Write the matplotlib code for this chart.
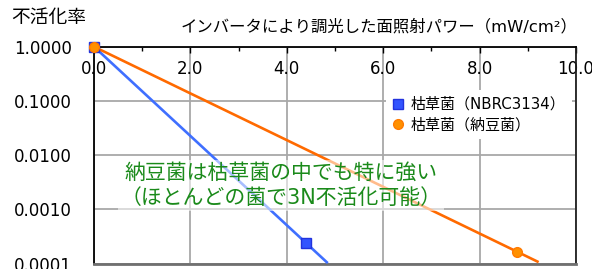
import numpy as np
import matplotlib
matplotlib.use("Agg")
import matplotlib.pyplot as plt

plt.rcParams['font.family'] = ['DejaVu Sans', 'Noto Sans CJK JP']

# データ（読み取り値）
x_nbrc = [0.0, 4.39]
y_nbrc = [1.0, 2.45e-4]
x_natto = [0.0, 8.78]
y_natto = [1.0, 1.66e-4]

# 近似線の描画範囲
rng_nbrc = [0.05, 4.83]
rng_natto = [0.14, 9.2]

xticks = [0, 2, 4, 6, 8, 10]
xminor = [1, 3, 5, 7, 9]
yticks = [1e-4, 1e-3, 1e-2, 1e-1, 1]

lab_nbrc = "枯草菌（NBRC3134）"
lab_natto = "枯草菌（納豆菌）"
titulo = "不活化率"
xlab = "インバータにより調光した面照射パワー（mW/cm²）"
nota = "納豆菌は枯草菌の中でも特に強い\n（ほとんどの菌で3N不活化可能）"

azul = "#3f6fff"
naranja = "#ff6a00"


def trend(xs, ys, rng):
    # 指数近似 (log10 で直線)
    p = np.polyfit(xs, np.log10(ys), 1)
    xx = np.array(rng)
    return xx, 10 ** np.polyval(p, xx)


fig = plt.figure(figsize=(5.92, 2.69), dpi=100)
ax = fig.add_axes([94 / 592, 5.3 / 269, 482 / 592, 217 / 269])

tx, ty = trend(x_nbrc, y_nbrc, rng_nbrc)
ax.plot(tx, ty, color=azul, lw=1.9, zorder=3)
tx, ty = trend(x_natto, y_natto, rng_natto)
ax.plot(tx, ty, color=naranja, lw=1.9, zorder=3)

ax.plot(x_nbrc, y_nbrc, 's', color="#3355ff", mec="#2233dd", ms=6.5, lw=0, zorder=4, label=lab_nbrc, clip_on=False)
ax.plot(x_natto, y_natto, 'o', color="#ff9000", mec="#ff7a00", ms=7, lw=0, zorder=5, label=lab_natto, clip_on=False)

ax.set_yscale('log')
ax.set_ylim(1e-4, 1)
ax.set_xlim(0, 10)
ax.set_yticks(yticks)
ax.set_yticklabels(["%.4f" % v for v in yticks])
ax.yaxis.set_minor_locator(matplotlib.ticker.NullLocator())
ax.set_xticks(xticks)
ax.set_xticklabels(["%.1f" % v for v in xticks])
ax.set_xticks(xminor, minor=True)

ax.xaxis.tick_top()
ax.tick_params(axis='x', which='major', direction='in', length=4, width=1, pad=-22.5, labelsize=12)
ax.tick_params(axis='x', which='minor', direction='in', length=3, width=1)
ax.tick_params(axis='y', which='major', length=0, pad=16, labelsize=12)

ax.grid(True, which='major', color="#a8a8a8", lw=1.3)
ax.set_axisbelow(True)

for s in ['left', 'top']:
    ax.spines[s].set_color('black')
    ax.spines[s].set_linewidth(1.3)
ax.spines['right'].set_color('#202020')
ax.spines['right'].set_linewidth(1.3)
ax.spines['bottom'].set_color('#707070')
ax.spines['bottom'].set_linewidth(2)

leg = ax.legend(loc='upper left', bbox_to_anchor=(0.605, 0.80), frameon=True,
                fancybox=False, edgecolor='none', facecolor='white', framealpha=1,
                fontsize=10.8, handlelength=0.8, handletextpad=0.4, labelspacing=0.35,
                borderpad=0.45, borderaxespad=0)
leg.set_zorder(6)

ax.text(0.388, 0.36, nota, transform=ax.transAxes, ha='center', va='center',
        color="#1a8a1a", fontsize=15, linespacing=1.35, zorder=7,
        bbox=dict(facecolor='white', alpha=0.55, edgecolor='none', pad=2))

fig.text(11 / 592, 1 - 18 / 269, titulo, fontsize=13.5, ha='left', va='center')
fig.text(577 / 592, 1 - 27 / 269, xlab, fontsize=11.8, ha='right', va='center')

fig.savefig("out.png", dpi=100)
